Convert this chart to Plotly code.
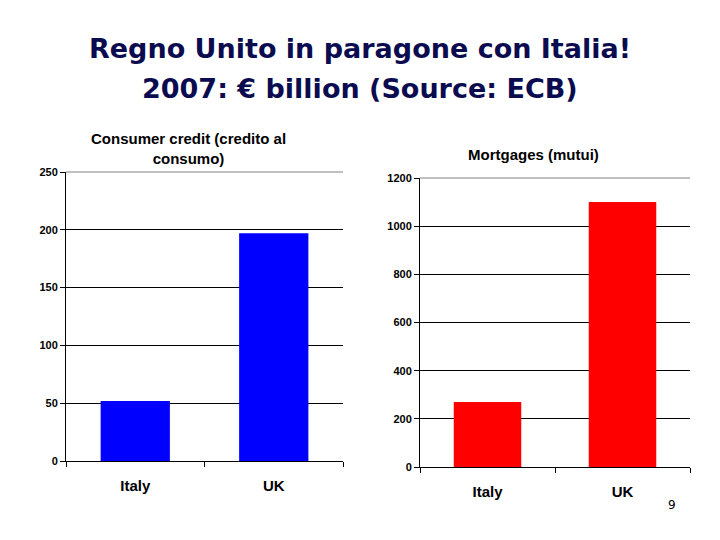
import plotly.graph_objects as go

categories = ["Italy", "UK"]
consumer_credit = [52, 197]
mortgages = [270, 1100]
cc_ticks = [0, 50, 100, 150, 200, 250]
mort_ticks = [0, 200, 400, 600, 800, 1000, 1200]

title_line1 = "Regno Unito in paragone con Italia!"
title_line2 = "2007: € billion (Source: ECB)"
cc_title = "Consumer credit (credito al<br>consumo)"
mort_title = "Mortgages (mutui)"

W, H = 720, 540
OFF = 8  # page body offset


def px(x):
    return (x - OFF) / W


def py(y):
    return 1 - (y - OFF) / H


fig = go.Figure()
fig.add_trace(go.Bar(x=categories, y=consumer_credit, marker=dict(color="#0000ff", line=dict(width=0)),
                     width=0.5, xaxis="x", yaxis="y", showlegend=False))
fig.add_trace(go.Bar(x=categories, y=mortgages, marker=dict(color="#ff0000", line=dict(width=0)),
                     width=0.5, xaxis="x2", yaxis="y2", showlegend=False))

tickfont = dict(family="Liberation Sans, Arial", size=11, color="black", weight="bold")
catfont = dict(family="Liberation Sans, Arial", size=15, color="black", weight="bold")

common_y = dict(showline=True, linecolor="black", linewidth=1, ticks="outside", ticklen=5,
                tickcolor="black", showgrid=True, gridcolor="black", gridwidth=1,
                zeroline=False, tickfont=tickfont, fixedrange=True, automargin=False)
common_x = dict(showline=True, linecolor="black", linewidth=1, ticks="outside", ticklen=5,
                tickcolor="black", tickson="boundaries", tickfont=catfont, showgrid=False,
                type="category", fixedrange=True, automargin=False, ticklabelstandoff=11)

title_font = dict(family="DejaVu Sans", size=27, color="#0b0b4f", weight="bold")

fig.update_layout(
    width=W, height=H,
    margin=dict(l=0, r=0, t=0, b=0, pad=0),
    paper_bgcolor="white", plot_bgcolor="white",
    bargap=0.5,
    xaxis=dict(domain=[px(66), px(343)], anchor="y", **common_x),
    yaxis=dict(domain=[py(461), py(172)], anchor="x", range=[0, 250],
               tickvals=cc_ticks, **common_y),
    xaxis2=dict(domain=[px(420), px(690)], anchor="y2", **common_x),
    yaxis2=dict(domain=[py(467), py(178)], anchor="x2", range=[0, 1200],
                tickvals=mort_ticks, **common_y),
    annotations=[
        dict(text=title_line1, x=px(360), y=py(48), xref="paper", yref="paper",
             xanchor="center", yanchor="middle", showarrow=False, font=title_font),
        dict(text=title_line2, x=px(360), y=py(88), xref="paper", yref="paper",
             xanchor="center", yanchor="middle", showarrow=False, font=title_font),
        dict(text=cc_title, x=px(188), y=py(149), xref="paper", yref="paper",
             xanchor="center", yanchor="middle", showarrow=False,
             font=dict(family="Liberation Sans, Arial", size=15, color="black", weight="bold")),
        dict(text=mort_title, x=px(533), y=py(154), xref="paper", yref="paper",
             xanchor="center", yanchor="middle", showarrow=False,
             font=dict(family="Liberation Sans, Arial", size=15, color="black", weight="bold")),
        dict(text="9", x=px(672), y=py(505), xref="paper", yref="paper",
             xanchor="center", yanchor="middle", showarrow=False,
             font=dict(family="DejaVu Sans", size=12, color="black")),
    ],
    shapes=[
        dict(type="line", xref="x domain", yref="y domain", x0=0, x1=1, y0=1, y1=1,
             line=dict(color="#808080", width=1)),
        dict(type="line", xref="x2 domain", yref="y2 domain", x0=0, x1=1, y0=1, y1=1,
             line=dict(color="#808080", width=1)),
    ],
)

fig.write_html("out.html")
